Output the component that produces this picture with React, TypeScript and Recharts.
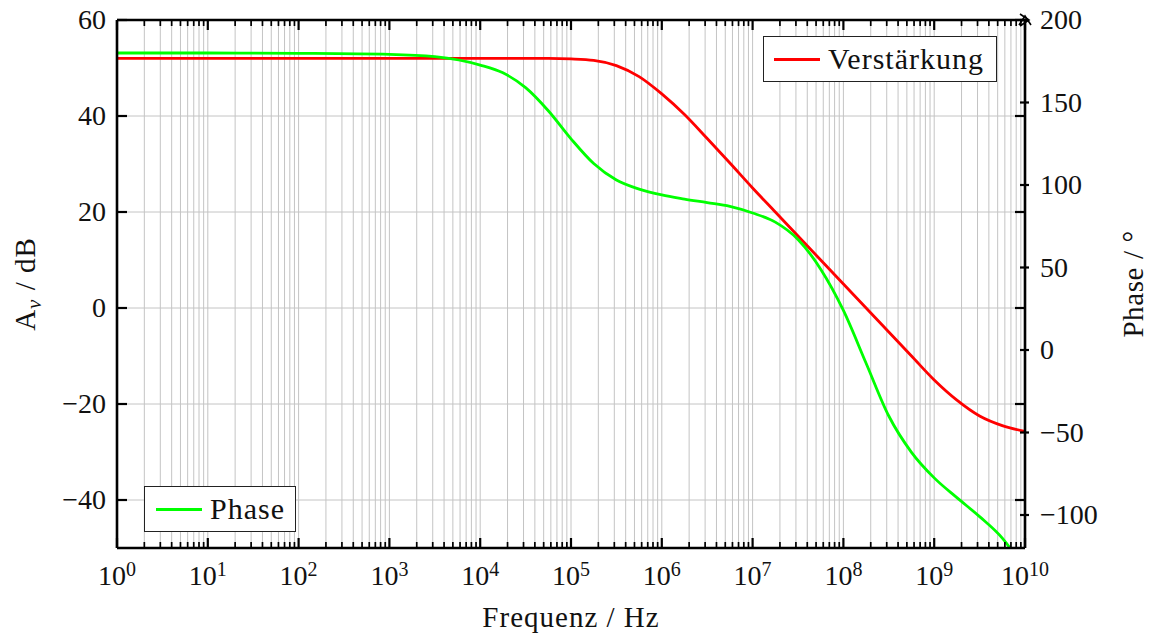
import React from "react";
import {
  CartesianGrid,
  Line,
  LineChart,
  ReferenceLine,
  XAxis,
  YAxis,
} from "recharts";

// frequency as decade exponent (10^x Hz)
const FREQ_EXP = [
  0, 1, 2, 3, 3.5, 4, 4.25, 4.5, 4.75, 5, 5.25, 5.5, 5.75, 6, 6.25, 6.5, 6.75,
  7, 7.25, 7.5, 7.75, 8, 8.25, 8.5, 8.75, 9, 9.25, 9.5, 9.75, 10,
];
// Verstärkung in dB (left axis)
const GAIN_DB = [
  52, 52, 52, 52, 52, 52, 52, 52, 52, 51.9, 51.6, 50.5, 48.2, 44.6, 40.3, 35.3,
  30.2, 25, 20, 15, 10, 5, 0, -5, -10, -15, -19.2, -22.5, -24.5, -25.7,
];
// Phase in degrees (right axis)
const PHASE_DEG = [
  180, 180, 179.8, 179.2, 177.8, 172.7, 168, 159, 145, 128, 113, 103, 97.5, 94,
  91.5, 89.3, 87, 83, 77.5, 67, 49, 24, -8, -40, -62, -77.5, -89.5, -101, -114,
  -133,
];

const DECADES = [0, 1, 2, 3, 4, 5, 6, 7, 8, 9, 10];
const MINOR_STEPS = [2, 3, 4, 5, 6, 7, 8, 9];
const GAIN_TICKS = [-40, -20, 0, 20, 40, 60];
const PHASE_TICKS = [-100, -50, 0, 50, 100, 150, 200];

const SERIES = [
  { key: "gain", name: "Verstärkung", color: "#ff0000", axis: "left" },
  { key: "phase", name: "Phase", color: "#00ff00", axis: "right" },
];

const data = FREQ_EXP.map((e, i) => ({
  f: 10 ** e,
  gain: GAIN_DB[i],
  phase: PHASE_DEG[i],
}));

const xTicks: number[] = [];
DECADES.forEach((d) => {
  xTicks.push(10 ** d);
  if (d < 10) MINOR_STEPS.forEach((m) => xTicks.push(m * 10 ** d));
});

const W = 1145;
const H = 627;
const LEFT_W = 109;
const RIGHT_W = 128;
const X_H = 87;
const TOP = 12;
const PLOT_W = W - LEFT_W - RIGHT_W;
const PLOT_H = H - TOP - X_H;
const FONT = "'Liberation Serif', 'Times New Roman', serif";
const fmt = (v: number) => (v < 0 ? "\u2212" + Math.abs(v) : String(v));

function XTick(props: any) {
  const { x, y, payload } = props;
  const exp = Math.log10(payload.value);
  const major = Math.abs(exp - Math.round(exp)) < 1e-9;
  const len = major ? 10 : 6;
  return (
    <g>
      <line x1={x} x2={x} y1={y} y2={y - len} stroke="#000" strokeWidth={major ? 2.2 : 1.7} />
      <line x1={x} x2={x} y1={y - PLOT_H} y2={y - PLOT_H + len} stroke="#000" strokeWidth={major ? 2.2 : 1.7} />
      {major && (
        <text x={x} y={y + 37} textAnchor="middle" fontFamily={FONT} fontSize={28} fill="#111">
          10
          <tspan fontSize={20} dy={-9}>
            {Math.round(exp)}
          </tspan>
        </text>
      )}
    </g>
  );
}

function GainTick(props: any) {
  const { x, y, payload } = props;
  return (
    <g>
      <line x1={x} x2={x + 10} y1={y} y2={y} stroke="#000" strokeWidth={2.2} />
      <line x1={x + PLOT_W} x2={x + PLOT_W - 10} y1={y} y2={y} stroke="#000" strokeWidth={2.2} />
      <text x={x - 11} y={y + 9} textAnchor="end" fontFamily={FONT} fontSize={28} fill="#111">
        {fmt(payload.value)}
      </text>
    </g>
  );
}

function PhaseTick(props: any) {
  const { x, y, payload } = props;
  return (
    <g>
      <line x1={x - 5} x2={x + 4} y1={y} y2={y} stroke="#000" strokeWidth={2.2} />
      {payload.value === 200 && (
        <g fill="none" stroke="#000" strokeWidth={1.6}>
          <polyline points={`${x - 5},${y - 6} ${x + 4},${y} ${x - 5},${y + 6}`} />
          <polyline points={`${x - 6},${y + 5} ${x},${y - 4} ${x + 6},${y + 5}`} />
        </g>
      )}
      <text x={x + 15} y={y + 9} textAnchor="start" fontFamily={FONT} fontSize={28} fill="#111">
        {fmt(payload.value)}
      </text>
    </g>
  );
}

function LegendBox({ name, color, style }: { name: string; color: string; style: React.CSSProperties }) {
  return (
    <div
      style={{
        position: "absolute",
        height: 46,
        boxSizing: "border-box",
        border: "1.3px solid #222",
        background: "#fff",
        display: "flex",
        alignItems: "center",
        paddingLeft: 10,
        fontFamily: FONT,
        fontSize: 30,
        letterSpacing: 1,
        color: "#111",
        ...style,
      }}
    >
      <span style={{ width: 46, height: 3, background: color, marginRight: 8, display: "inline-block" }} />
      <span style={{ lineHeight: 1 }}>{name}</span>
    </div>
  );
}

export default function App() {
  return (
    <div style={{ position: "relative", width: W, height: H }}>
      <LineChart width={W} height={H} data={data} margin={{ top: TOP, right: 0, left: 0, bottom: 0 }}>
        <CartesianGrid xAxisId="x" yAxisId="left" stroke="#c4c4c4" strokeWidth={1} />
        <XAxis
          xAxisId="x"
          dataKey="f"
          type="number"
          scale="log"
          domain={[1, 1e10]}
          allowDataOverflow
          ticks={xTicks}
          interval={0}
          height={X_H}
          tickSize={0}
          tickMargin={0}
          tick={(p: any) => <XTick {...p} />}
          axisLine={{ stroke: "#000", strokeWidth: 2.6 }}
          label={{
            content: () => (
              <text
                x={LEFT_W + PLOT_W / 2}
                y={H - 8}
                textAnchor="middle"
                fontFamily={FONT}
                fontSize={29}
                letterSpacing={1}
                fill="#111"
              >
                Frequenz / Hz
              </text>
            ),
          }}
        />
        <YAxis
          yAxisId="left"
          orientation="left"
          domain={[-50, 60]}
          allowDataOverflow
          ticks={GAIN_TICKS}
          interval={0}
          width={LEFT_W}
          tickSize={0}
          tickMargin={0}
          tick={(p: any) => <GainTick {...p} />}
          axisLine={{ stroke: "#000", strokeWidth: 2.6 }}
          label={{
            content: () => (
              <text
                x={27}
                y={TOP + PLOT_H / 2}
                transform={`rotate(-90, 27, ${TOP + PLOT_H / 2})`}
                textAnchor="middle"
                fontFamily={FONT}
                fontSize={29}
                letterSpacing={1}
                fill="#111"
              >
                A
                <tspan fontStyle="italic" fontSize={21} dy={6}>
                  v
                </tspan>
                <tspan dy={-6}> / dB</tspan>
              </text>
            ),
          }}
        />
        <YAxis
          yAxisId="right"
          orientation="right"
          domain={[-120, 200]}
          allowDataOverflow
          ticks={PHASE_TICKS}
          interval={0}
          width={RIGHT_W}
          tickSize={0}
          tickMargin={0}
          tick={(p: any) => <PhaseTick {...p} />}
          axisLine={{ stroke: "#000", strokeWidth: 2.6 }}
          label={{
            content: () => (
              <text
                x={LEFT_W + PLOT_W + 118}
                y={TOP + PLOT_H / 2}
                transform={`rotate(-90, ${LEFT_W + PLOT_W + 118}, ${TOP + PLOT_H / 2})`}
                textAnchor="middle"
                fontFamily={FONT}
                fontSize={29}
                letterSpacing={0.6}
                fill="#111"
              >
                Phase / °
              </text>
            ),
          }}
        />
        <ReferenceLine xAxisId="x" yAxisId="left" y={60} stroke="#000" strokeWidth={2.6} />
        {SERIES.map((s) => (
          <Line
            key={s.key}
            xAxisId="x"
            yAxisId={s.axis}
            dataKey={s.key}
            name={s.name}
            type="monotone"
            stroke={s.color}
            strokeWidth={2.8}
            dot={false}
            isAnimationActive={false}
          />
        ))}
      </LineChart>
      <LegendBox name={SERIES[0].name} color={SERIES[0].color} style={{ left: 755, top: 28, width: 234 }} />
      <LegendBox name={SERIES[1].name} color={SERIES[1].color} style={{ left: 136, top: 478, width: 152, paddingLeft: 11 }} />
    </div>
  );
}
